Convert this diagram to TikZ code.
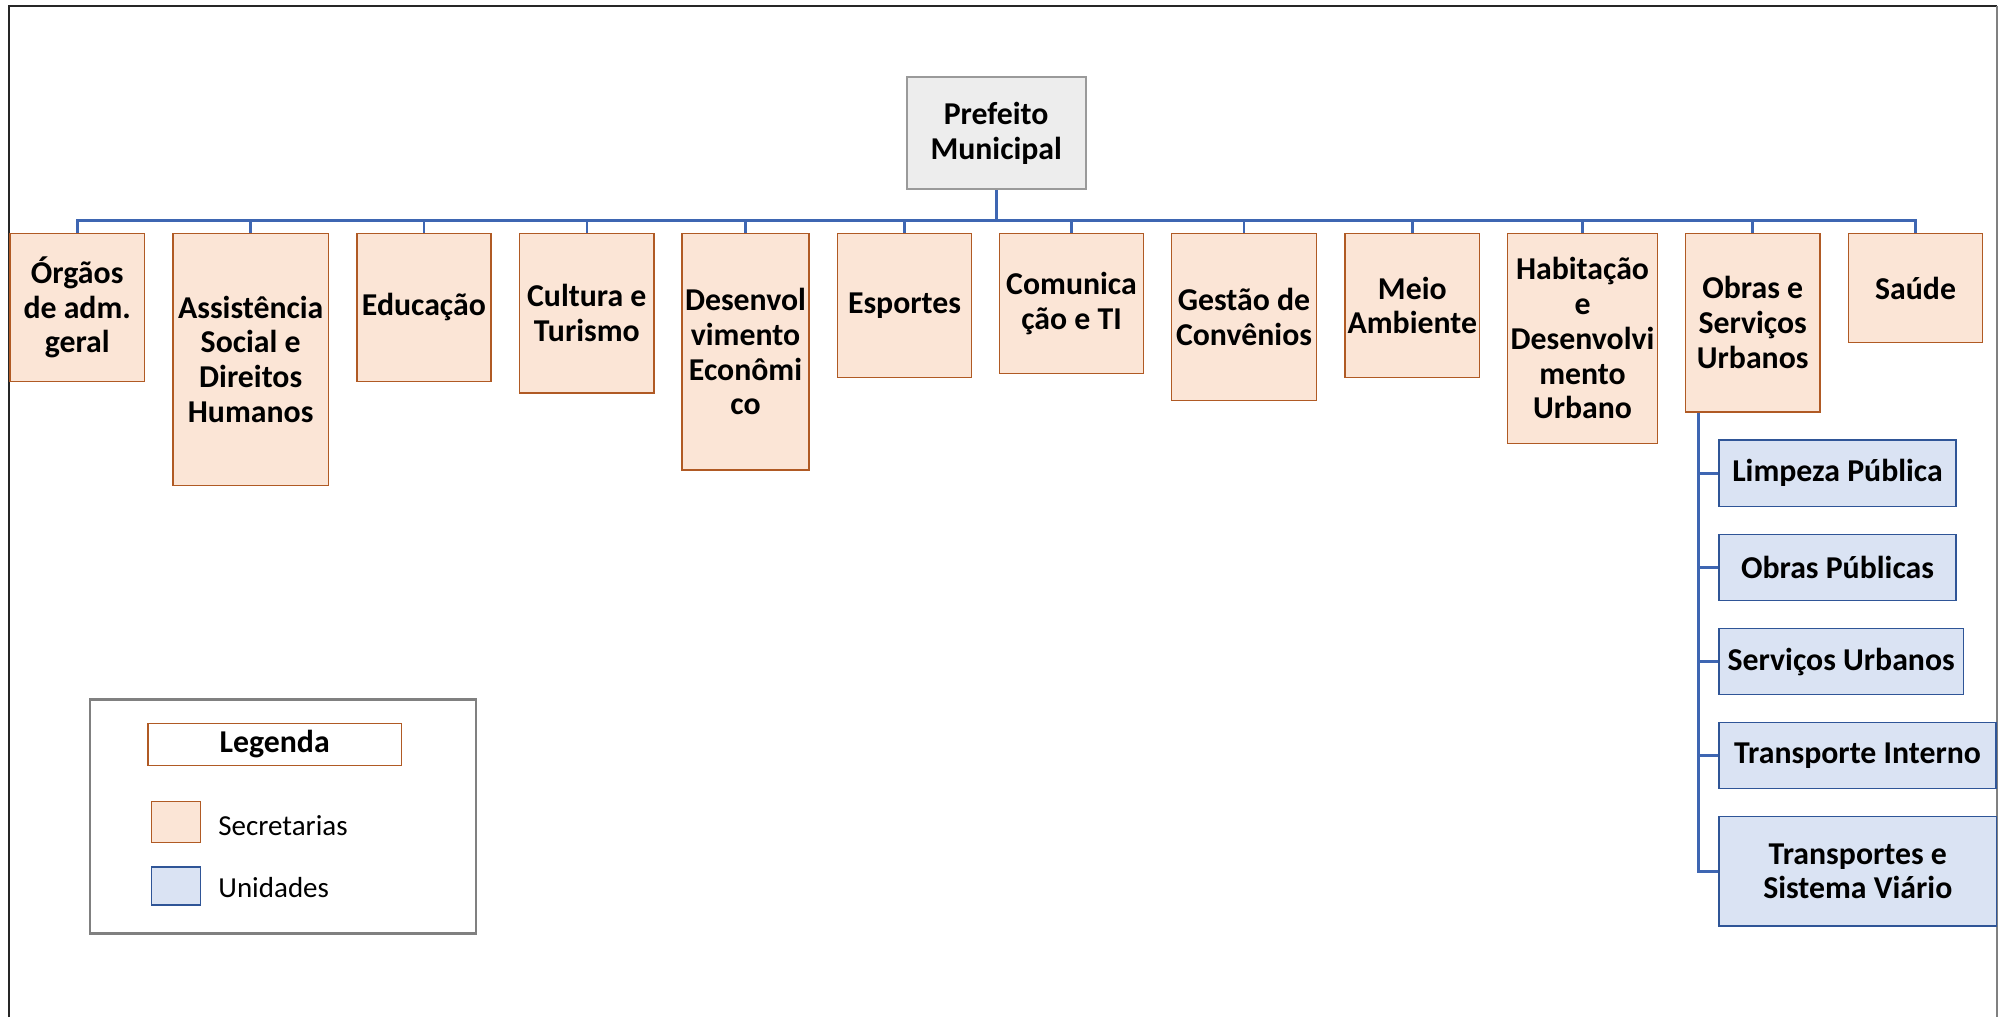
\documentclass[tikz,border=0pt]{standalone}
\usepackage{fontspec}
\setmainfont{Carlito}
\definecolor{secfill}{HTML}{FBE5D6}
\definecolor{secdraw}{HTML}{B05A24}
\definecolor{unifill}{HTML}{DAE3F3}
\definecolor{unidraw}{HTML}{2F5597}
\definecolor{connblue}{HTML}{3E66B2}
\definecolor{preffill}{HTML}{EDEDED}
\definecolor{prefdraw}{HTML}{9A9A9A}
\definecolor{framedark}{HTML}{262626}
\definecolor{framegray}{HTML}{808080}
\begin{document}
\begin{tikzpicture}[x=0.5pt,y=-0.5pt,
  sz/.style 2 args={minimum width=#1*0.5pt, minimum height=#2*0.5pt},
  boxbase/.style={draw, inner sep=0pt, align=center,
    font=\bfseries\fontsize{15.9}{17.4}\selectfont},
  sec/.style={boxbase, fill=secfill, draw=secdraw, line width=0.75pt},
  uni/.style={boxbase, fill=unifill, draw=unidraw, line width=0.75pt},
  prefbox/.style={boxbase, fill=preffill, draw=prefdraw, line width=1pt},
  connline/.style={draw=connblue, line width=1.3pt},
  legtext/.style={inner sep=0pt, font=\fontsize{14.5}{17}\selectfont},
  legframe/.style={draw=framegray, line width=1.2pt, fill=white},
  legtitle/.style={boxbase, fill=white, draw=secdraw, line width=0.75pt}
]
\useasboundingbox (0,0) rectangle (2006,1017);

% outer frame
\draw[framedark, line width=0.8pt] (9,1017) -- (9,5.7) -- (1997,5.7);
\draw[framegray, line width=1pt] (1997,5.7) -- (1997,1017);

% top
\node[prefbox, sz={179}{112}] (pref) at (996.2,133.3) {Prefeito\\Municipal};

% secretarias
\node[sec, sz={134.8}{148.4}] (org) at (77.2,307.5) {Órgãos\\de adm.\\geral};
\node[sec, sz={155.8}{252}] (assist) at (250.7,359.3) {Assistência\\Social e\\Direitos\\Humanos};
\node[sec, sz={134.3}{148.4}] (edu) at (423.9,307.5) {Educação};
\node[sec, sz={134.4}{159.7}] (cult) at (586.8,313.2) {Cultura e\\Turismo};
\node[sec, sz={127}{236.7}] (desenv) at (745.5,351.7) {Desenvol\\vimento\\Econômi\\co};
\node[sec, sz={134}{144.4}] (esp) at (904.5,305.5) {Esportes};
\node[sec, sz={143.7}{140}] (com) at (1071.5,303.3) {Comunica\\ção e TI};
\node[sec, sz={145}{167.4}] (gest) at (1244,317) {Gestão de\\Convênios};
\node[sec, sz={134.6}{144.4}] (meio) at (1412.3,305.5) {Meio\\Ambiente};
\node[sec, sz={150}{210}] (hab) at (1582.5,338.3) {Habitação\\e\\Desenvolvi\\mento\\Urbano};
\node[sec, sz={134.6}{178.7}] (obras) at (1752.7,322.7) {Obras e\\Serviços\\Urbanos};
\node[sec, sz={134.2}{109.4}] (saude) at (1915.5,288) {Saúde};

% connectors to secretarias
\foreach \n in {org,assist,edu,cult,desenv,esp,com,gest,meio,hab,obras,saude}
  \draw[connline] (pref.south) -- ++(0,30) -| (\n.north);

% unidades
\node[uni, sz={237}{66.7}] (limp) at (1837.5,473.3) {Limpeza Pública};
\node[uni, sz={237}{66.4}] (obpub) at (1837.5,567.5) {Obras Públicas};
\node[uni, sz={244.3}{66}] (servurb) at (1841.2,661.7) {Serviços Urbanos};
\node[uni, sz={277}{66}] (transpint) at (1857.5,755.7) {Transporte Interno};
\node[uni, sz={277.7}{109.3}] (transpsv) at (1857.8,871.3) {Transportes e\\Sistema Viário};

\foreach \u in {limp,obpub,servurb,transpint,transpsv}
  \draw[connline] ([xshift=7pt]obras.south west) |- (\u.west);

% legend
\node[legframe, sz={386}{234}] (legbox) at (283,816.3) {};
\node[legtitle, sz={253.3}{42}] (legtitle) at (274.7,744.3) {Legenda};
\node[sec, sz={49.4}{41.4}] (swsec) at (176,822) {};
\node[uni, sz={49.4}{38}] (swuni) at (176,886) {};
\node[legtext, anchor=west] (txsec) at (218,825.3) {Secretarias};
\node[legtext, anchor=west] (txuni) at (218,887.7) {Unidades};
\end{tikzpicture}
\end{document}
